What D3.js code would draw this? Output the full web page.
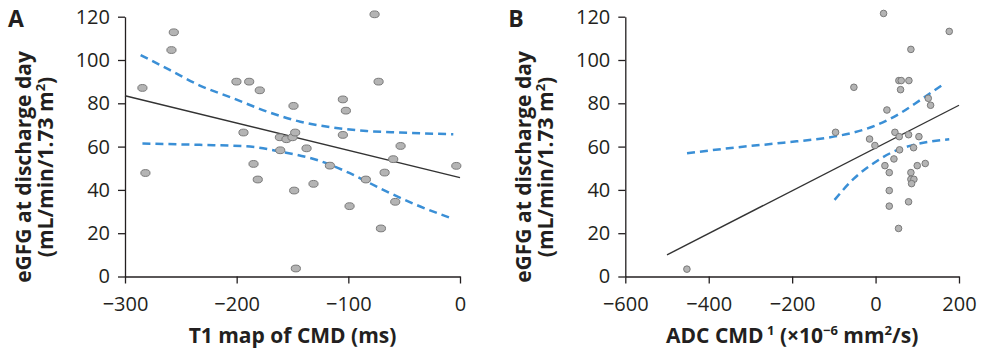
<!DOCTYPE html>
<html>
<head>
<meta charset="utf-8">
<script src="https://cdn.jsdelivr.net/npm/d3@7"></script>
<style>
  body { margin: 0; background: #fff; }
  svg { display: block; }
  .tick text { font-family: "Open Sans", sans-serif; font-size: 20px; fill: #231f20; }
  .axis path, .axis line { stroke: #231f20; stroke-width: 1.3; }
  .title { font-family: "Open Sans", sans-serif; font-weight: bold; fill: #231f20; }
</style>
</head>
<body>
<div id="chart"></div>
<script>
// panel A: T1 map of CMD (ms) vs eGFR
const t1X = [-284.4, -281.7, -258.4, -256.3, -200.2, -188.8, -179.3, -193.9, -184.9, -181.1,
  -161.3, -155.4, -150, -147.6, -149.1, -161, -137.4, -148.5, -147, -131.2,
  -116.5, -104.9, -102.2, -104.9, -98.9, -84.3, -76.5, -72.9, -70.8, -67.5,
  -59.8, -58, -53.2, -3.3];
const t1Y = [87.1, 47.8, 104.6, 112.8, 90, 90, 86, 66.5, 52, 44.8,
  64.3, 63.4, 64.3, 66.5, 78.8, 58.3, 59.2, 39.7, 3.7, 42.8,
  51.2, 81.8, 76.6, 65.4, 32.5, 44.8, 121.1, 90, 22.2, 48,
  54.2, 34.5, 60.3, 51.1];
const t1FitX = [-300, 0];
const t1FitY = [83.5, 45.7];
const t1UpperX = [-286, -260, -233, -203, -173, -143, -113.5, -83.7, -53.8, -6];
const t1UpperY = [102.3, 95.4, 88.2, 82.3, 76.2, 71.5, 68.8, 67.2, 66.5, 65.7];
const t1LowerX = [-284.4, -233, -188, -161, -128, -98.6, -68.7, -38.8, -6];
const t1LowerY = [61.4, 60.8, 60, 57.7, 53.8, 47.7, 40, 33, 26.6];

// panel B: ADC CMD vs eGFR
const adcX = [-452.3, -95.9, -52, -14.4, -1.6, 19.2, 27.2, 22.4, 32.8, 32.8,
  32.8, 44, 46.4, 56.7, 57.5, 55.1, 55.9, 61.5, 59.9, 79.1,
  79.9, 84.7, 84.7, 84.7, 91.9, 86.3, 79.1, 91.1, 99.9, 103.9,
  119.1, 126.3, 131.9, 176.6];
const adcY = [3.4, 66.6, 87.4, 63.5, 60.5, 121.5, 76.9, 51.2, 48, 39.7,
  32.5, 54.3, 66.6, 64.6, 58.5, 22.2, 90.5, 90.5, 86.3, 65.5,
  90.5, 104.9, 48, 44.9, 44.9, 42.9, 34.5, 59.5, 51.2, 64.6,
  52.2, 82.3, 79.1, 113.2];
const adcFitX = [-500, 200];
const adcFitY = [10, 79.1];
const adcUpperX = [-452, -340, -220.6, -100.7, -52.7, 3.2, 59, 107, 163];
const adcUpperY = [56.9, 59.5, 61.8, 64.6, 66.5, 70, 75.4, 81.5, 88.9];
const adcLowerX = [-98.3, -52.7, -4.8, 43.2, 91.1, 176.6];
const adcLowerY = [35.4, 45.1, 52.3, 57.7, 60.8, 63.4];

const yTicks = [0, 20, 40, 60, 80, 100, 120];
const t1Ticks = [-300, -200, -100, 0];
const adcTicks = [-600, -400, -200, 0, 200];

const svg = d3.select("#chart").append("svg")
  .attr("width", 984)
  .attr("height", 350);

function zip(xs, ys) { return xs.map((x, i) => [x, ys[i]]); }

function drawPanel(p) {
  const x = d3.scaleLinear().domain(p.xDomain).range([p.left, p.right]);
  const y = d3.scaleLinear().domain([0, 120]).range([276.5, 16.7]);

  svg.append("g")
    .attr("class", "axis")
    .attr("transform", "translate(0," + y(0) + ")")
    .call(d3.axisBottom(x).tickValues(p.xTicks).tickSize(7).tickSizeOuter(0).tickPadding(9))
    .call(g => g.selectAll(".tick text").attr("dy", "0.9em"));

  svg.append("g")
    .attr("class", "axis")
    .attr("transform", "translate(" + p.left + ",0)")
    .call(d3.axisLeft(y).tickValues(yTicks).tickSize(7).tickSizeOuter(0).tickPadding(8));

  // regression line
  svg.append("path")
    .datum(zip(p.fitX, p.fitY))
    .attr("fill", "none")
    .attr("stroke", "#333")
    .attr("stroke-width", 1.4)
    .attr("d", d3.line().x(d => x(d[0])).y(d => y(d[1])));

  // confidence bands
  const band = d3.line().curve(d3.curveMonotoneX).x(d => x(d[0])).y(d => y(d[1]));
  [zip(p.upX, p.upY), zip(p.loX, p.loY)].forEach(b => {
    svg.append("path")
      .datum(b)
      .attr("fill", "none")
      .attr("stroke", "#3a8fd6")
      .attr("stroke-width", 2.5)
      .attr("stroke-dasharray", "8,5")
      .attr("d", band);
  });

  svg.append("g").selectAll("ellipse")
    .data(zip(p.ptX, p.ptY))
    .join("ellipse")
    .attr("cx", d => x(d[0]))
    .attr("cy", d => y(d[1]))
    .attr("rx", p.rx)
    .attr("ry", p.ry)
    .attr("fill", "#b4b4b4")
    .attr("stroke", "#7a7a7a")
    .attr("stroke-width", 1);

  // panel letter
  svg.append("text")
    .attr("class", "title")
    .attr("x", p.left - 117)
    .attr("y", 27)
    .attr("font-size", 23)
    .text(p.letter);

  // y title
  const yt = svg.append("text")
    .attr("class", "title")
    .attr("font-size", 21)
    .attr("text-anchor", "middle")
    .attr("transform", "translate(" + (p.left - 94) + ",167) rotate(-90)");
  yt.append("tspan").attr("x", 0).attr("y", 0).text("eGFG at discharge day");
  const l2 = yt.append("tspan").attr("x", 0).attr("y", 22);
  l2.append("tspan").text("(mL/min/1.73 m");
  l2.append("tspan").attr("font-size", 13).attr("dy", -8).text("2");
  l2.append("tspan").attr("dy", 8).text(")");

  // x title
  const xt = svg.append("text")
    .attr("class", "title")
    .attr("font-size", 21)
    .attr("text-anchor", "middle")
    .attr("x", (p.left + p.right) / 2)
    .attr("y", 343);
  p.xTitle(xt);
}

drawPanel({
  letter: "A", left: 125, right: 460, xDomain: [-300, 0], xTicks: t1Ticks,
  ptX: t1X, ptY: t1Y, fitX: t1FitX, fitY: t1FitY,
  upX: t1UpperX, upY: t1UpperY, loX: t1LowerX, loY: t1LowerY,
  rx: 4.6, ry: 3.4,
  xTitle: t => t.text("T1 map of CMD (ms)")
});

drawPanel({
  letter: "B", left: 625.3, right: 959, xDomain: [-600, 200], xTicks: adcTicks,
  ptX: adcX, ptY: adcY, fitX: adcFitX, fitY: adcFitY,
  upX: adcUpperX, upY: adcUpperY, loX: adcLowerX, loY: adcLowerY,
  rx: 3.3, ry: 3.3,
  xTitle: t => {
    t.append("tspan").text("ADC CMD");
    t.append("tspan").attr("font-size", 13).attr("dy", -8).text(" 1");
    t.append("tspan").attr("dy", 8).text(" (×10");
    t.append("tspan").attr("font-size", 13).attr("dy", -8).text("−6");
    t.append("tspan").attr("dy", 8).text(" mm");
    t.append("tspan").attr("font-size", 13).attr("dy", -8).text("2");
    t.append("tspan").attr("dy", 8).text("/s)");
  }
});
</script>
</body>
</html>
